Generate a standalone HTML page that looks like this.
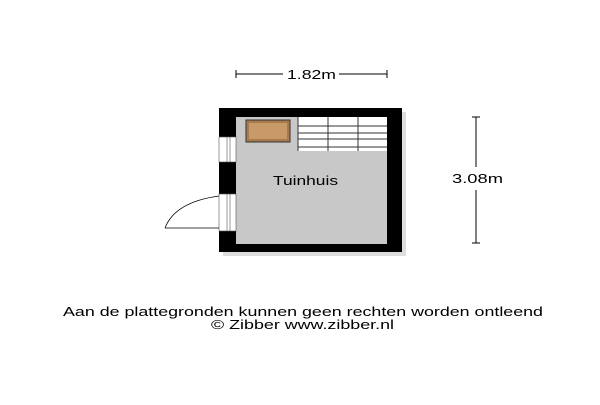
<!DOCTYPE html>
<html><head><style>body{margin:0;background:#fff}</style></head><body>
<svg width="600" height="400" xmlns="http://www.w3.org/2000/svg" font-family="Liberation Sans, sans-serif">
<rect x="223" y="112" width="183" height="144" fill="#bbb" opacity="0.5"/>
<rect x="219" y="108" width="183" height="144" fill="#000"/>
<rect x="236" y="117" width="151" height="127" fill="#c8c8c8"/>
<rect x="219" y="137" width="17" height="25" fill="#fff" stroke="#555" stroke-width="0.6"/>
<line x1="227" y1="137" x2="227" y2="162" stroke="#555" stroke-width="0.6"/>
<line x1="230" y1="137" x2="230" y2="162" stroke="#555" stroke-width="0.6"/>
<rect x="219" y="194" width="17" height="37" fill="#fff" stroke="#555" stroke-width="0.6"/>
<line x1="227" y1="194" x2="227" y2="231" stroke="#555" stroke-width="0.6"/>
<line x1="230" y1="194" x2="230" y2="231" stroke="#555" stroke-width="0.6"/>
<path d="M165 228 Q175 202 219 196" fill="none" stroke="#000" stroke-width="0.8"/>
<line x1="165" y1="228" x2="219" y2="228" stroke="#000" stroke-width="0.8"/>
<rect x="246" y="120" width="44" height="22" fill="#a87a4c" stroke="#333" stroke-width="1"/>
<rect x="249" y="123" width="38" height="16" fill="#c89a6a"/>
<rect x="298" y="117" width="89" height="34" fill="#fff"/>
<g stroke="#333" stroke-width="1">
<line x1="298" y1="126" x2="387" y2="126"/><line x1="298" y1="133" x2="387" y2="133"/>
<line x1="298" y1="139" x2="387" y2="139"/><line x1="298" y1="147" x2="387" y2="147"/>
<line x1="298" y1="117" x2="298" y2="151"/><line x1="328" y1="117" x2="328" y2="151"/><line x1="358" y1="117" x2="358" y2="151"/>
</g>
<text x="273" y="185" font-size="13" textLength="65" lengthAdjust="spacingAndGlyphs">Tuinhuis</text>
<g stroke="#000" stroke-width="1">
<line x1="236" y1="74" x2="283" y2="74"/><line x1="339" y1="74" x2="387" y2="74"/>
<line x1="236" y1="70" x2="236" y2="78"/><line x1="387" y1="70" x2="387" y2="78"/>
<line x1="476" y1="117" x2="476" y2="167"/><line x1="476" y1="190" x2="476" y2="243"/>
<line x1="472" y1="117" x2="480" y2="117"/><line x1="472" y1="243" x2="480" y2="243"/>
</g>
<text x="287" y="79" font-size="13" textLength="49" lengthAdjust="spacingAndGlyphs">1.82m</text>
<text x="452" y="183" font-size="13" textLength="51" lengthAdjust="spacingAndGlyphs">3.08m</text>
<text x="63" y="316" font-size="12.5" textLength="480" lengthAdjust="spacingAndGlyphs">Aan de plattegronden kunnen geen rechten worden ontleend</text>
<text x="211" y="329" font-size="12.5" textLength="183" lengthAdjust="spacingAndGlyphs">© Zibber www.zibber.nl</text>
</svg>
</body></html>
